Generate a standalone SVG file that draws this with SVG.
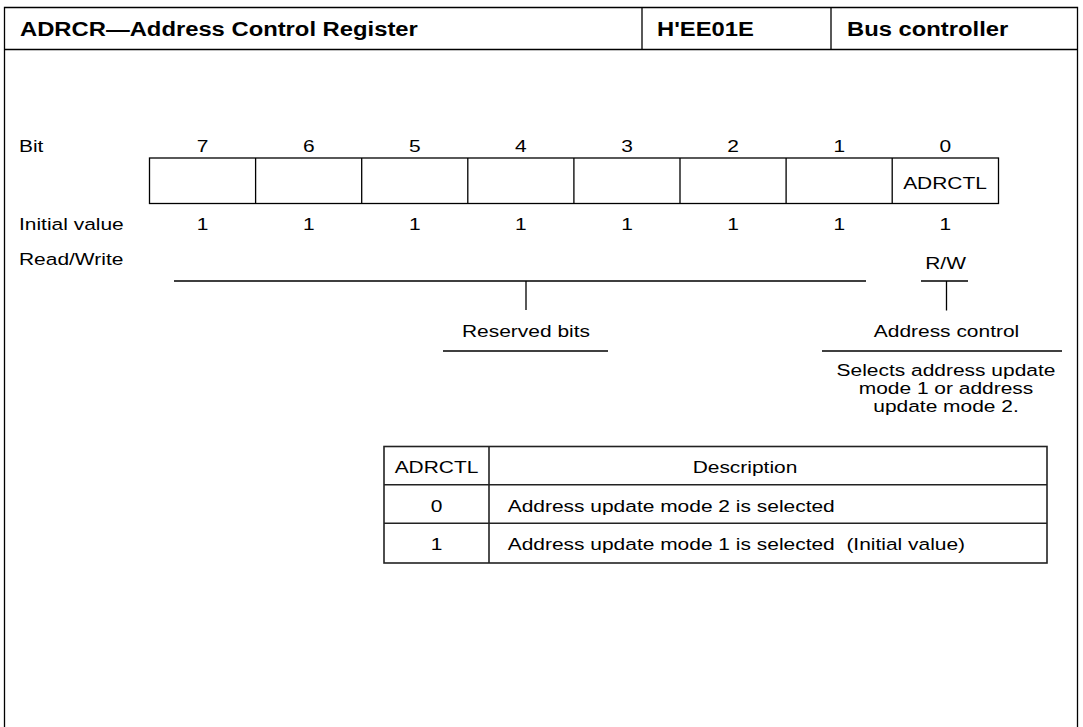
<svg xmlns="http://www.w3.org/2000/svg" width="1083" height="727" viewBox="0 0 1083 727">
<style>
text{font-family:"Liberation Sans",Arial,sans-serif;font-size:16.5px;fill:#000}
.h{font-size:20px;font-weight:bold}
.m{text-anchor:middle}
.ln{stroke:#000;stroke-width:1.3;fill:none}
.tb{stroke:#222;stroke-width:1.6;fill:none}
</style>
<rect width="1083" height="727" fill="#fff"/>
<g id="frame">
<path class="ln" d="M4.5,730 V7.5 H1077.5 V730"/>
<path class="ln" d="M4.5,49.5 H1077.5 M642,7.5 V49.5 M831,7.5 V49.5"/>
</g>
<g id="header">
<text class="h" transform="translate(20,36) scale(1.19,1)">ADRCR—Address Control Register</text>
<text class="h" transform="translate(657,36) scale(1.19,1)">H'EE01E</text>
<text class="h" transform="translate(847,36) scale(1.19,1)">Bus controller</text>
</g>
<g id="row-labels">
<text transform="translate(19,152) scale(1.27,1)">Bit</text>
<text transform="translate(19,230) scale(1.27,1)">Initial value</text>
<text transform="translate(19,265) scale(1.27,1)">Read/Write</text>
</g>
<g id="bit-numbers">
<text class="m" transform="translate(202.6,152) scale(1.27,1)">7</text>
<text class="m" transform="translate(308.7,152) scale(1.27,1)">6</text>
<text class="m" transform="translate(414.8,152) scale(1.27,1)">5</text>
<text class="m" transform="translate(520.9,152) scale(1.27,1)">4</text>
<text class="m" transform="translate(627,152) scale(1.27,1)">3</text>
<text class="m" transform="translate(733.1,152) scale(1.27,1)">2</text>
<text class="m" transform="translate(839.2,152) scale(1.27,1)">1</text>
<text class="m" transform="translate(945.3,152) scale(1.27,1)">0</text>
</g>
<g id="register">
<rect class="ln" x="149.5" y="158" width="849" height="45.5"/>
<path class="ln" d="M255.6,158 V203.5 M361.7,158 V203.5 M467.8,158 V203.5 M573.9,158 V203.5 M680,158 V203.5 M786.1,158 V203.5 M892.2,158 V203.5"/>
<text class="m" transform="translate(945,189) scale(1.27,1)">ADRCTL</text>
</g>
<g id="initial-values">
<text class="m" transform="translate(202.6,230) scale(1.27,1)">1</text>
<text class="m" transform="translate(308.7,230) scale(1.27,1)">1</text>
<text class="m" transform="translate(414.8,230) scale(1.27,1)">1</text>
<text class="m" transform="translate(520.9,230) scale(1.27,1)">1</text>
<text class="m" transform="translate(627,230) scale(1.27,1)">1</text>
<text class="m" transform="translate(733.1,230) scale(1.27,1)">1</text>
<text class="m" transform="translate(839.2,230) scale(1.27,1)">1</text>
<text class="m" transform="translate(945.3,230) scale(1.27,1)">1</text>
</g>
<g id="rw">
<text class="m" transform="translate(945.6,269) scale(1.27,1)">R/W</text>
</g>
<g id="connectors">
<path class="ln" d="M174,281 H866 M526,281 V310"/>
<path class="ln" d="M921,281 H968 M946.5,281 V310.5"/>
<path class="ln" d="M443,351 H608"/>
<path class="ln" d="M822,351 H1062"/>
</g>
<g id="reserved-bits">
<text class="m" transform="translate(526,337) scale(1.27,1)">Reserved bits</text>
</g>
<g id="address-control">
<text class="m" transform="translate(946.5,336.5) scale(1.27,1)">Address control</text>
<text class="m" transform="translate(946,376) scale(1.27,1)">Selects address update</text>
<text class="m" transform="translate(946,394) scale(1.27,1)">mode 1 or address</text>
<text class="m" transform="translate(946,412) scale(1.27,1)">update mode 2.</text>
</g>
<g id="table">
<rect class="tb" x="384" y="446.5" width="663" height="116.5"/>
<path class="tb" d="M489,446.5 V563 M384,484.7 H1047 M384,523.3 H1047"/>
<text class="m" transform="translate(436.5,473.3) scale(1.27,1)">ADRCTL</text>
<text class="m" transform="translate(745,473.3) scale(1.27,1)">Description</text>
<text class="m" transform="translate(436.5,511.7) scale(1.27,1)">0</text>
<text transform="translate(507.7,511.7) scale(1.27,1)">Address update mode 2 is selected</text>
<text class="m" transform="translate(436.5,550) scale(1.27,1)">1</text>
<text transform="translate(507.7,550) scale(1.27,1)">Address update mode 1 is selected&#160; (Initial value)</text>
</g>
</svg>
